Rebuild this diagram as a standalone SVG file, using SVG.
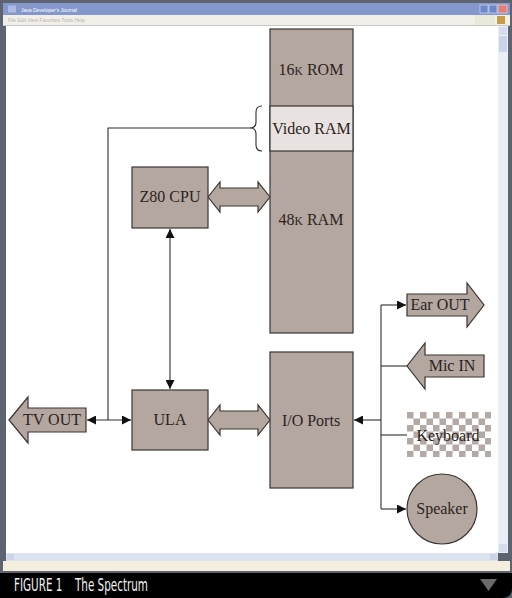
<svg xmlns="http://www.w3.org/2000/svg" width="512" height="598" viewBox="0 0 512 598">
<style>
.box{fill:#b4a7a0;stroke:#3a3432;stroke-width:1.2}
.lt{fill:#e8e3e0;stroke:#3a3432;stroke-width:1.2}
.lbl{font-family:"Liberation Serif","Times New Roman",serif;font-size:16px;fill:#2b2320;text-anchor:middle}
.ln{fill:none;stroke:#2e2e2e;stroke-width:1.1}
.ui{font-family:"Liberation Sans",Arial,sans-serif;font-size:5px}
.cap{font-family:"DejaVu Sans Condensed","DejaVu Sans","Liberation Sans",sans-serif;font-size:17px;fill:#f2f2f2}
</style>
<defs>
<marker id="ah" viewBox="0 0 10 10" refX="10" refY="5" markerWidth="9" markerHeight="9" markerUnits="userSpaceOnUse" orient="auto-start-reverse">
<path d="M0,0 L10,5 L0,10 z" fill="#111"/>
</marker>
<pattern id="chk" x="407" y="412" width="13" height="13" patternUnits="userSpaceOnUse">
<rect width="13" height="13" fill="#ffffff"/>
<rect width="6.5" height="6.5" fill="#b3aaa6"/>
<rect x="6.5" y="6.5" width="6.5" height="6.5" fill="#b3aaa6"/>
</pattern>
</defs>

<!-- window chrome -->
<g id="window">
<rect x="0" y="0" width="512" height="598" fill="#5d6470"/>
<rect x="3" y="3" width="507" height="12" fill="#8598cd"/>
<text x="21" y="11.5" class="ui" fill="#ffffff">Java Developer's Journal</text>
<rect x="8" y="5.5" width="8" height="7" fill="#c8d2ee" opacity="0.6"/>
<rect x="480" y="5" width="8" height="8" fill="#6f86c8" stroke="#dfe6f6" stroke-width="0.6"/>
<rect x="489" y="5" width="8" height="8" fill="#6f86c8" stroke="#dfe6f6" stroke-width="0.6"/>
<rect x="498" y="5" width="9" height="8" fill="#e07f7a" stroke="#f4dcdc" stroke-width="0.6"/>
<rect x="3" y="15" width="507" height="10" fill="#f2efe8"/>
<rect x="475" y="15" width="20" height="10" fill="#eae8d8"/>
<text x="8" y="22" class="ui" fill="#b8b6b0">File   Edit   View   Favorites   Tools   Help</text>
<rect x="497" y="16" width="8" height="8" fill="#c79b4a"/>
<rect x="3" y="25" width="507" height="1" fill="#c7c7c7"/>
<rect x="6" y="26" width="492" height="527" fill="#ffffff"/>
<rect x="498" y="26" width="10" height="527" fill="#eaeef6"/>
<rect x="499" y="27" width="8" height="8" fill="#d4dcee"/>
<rect x="499" y="36" width="8" height="16" fill="#c9d3ea"/>
<rect x="499" y="544" width="8" height="8" fill="#d4dcee"/>
<rect x="6" y="553" width="492" height="8" fill="#dce4f2"/>
<rect x="7" y="554" width="7" height="6" fill="#cbd5ea"/>
<rect x="490" y="554" width="7" height="6" fill="#cbd5ea"/>
<rect x="3" y="561" width="507" height="10" fill="#f4efdc"/>
<path d="M0,573 H512 V588 Q512,598 502,598 H0 Z" fill="#000000"/>
<text transform="translate(14,591) scale(0.68,1)" class="cap">FIGURE 1</text>
<text transform="translate(75,591) scale(0.68,1)" class="cap">The Spectrum</text>
<path d="M480,579 H497 L488.5,591 Z" fill="#6a6a6a"/>
</g>

<!-- connectors -->
<g id="connectors">
<line class="ln" x1="170" y1="229" x2="170" y2="389" marker-start="url(#ah)" marker-end="url(#ah)"/>
<line class="ln" x1="87" y1="420" x2="131" y2="420" marker-start="url(#ah)" marker-end="url(#ah)"/>
<polyline class="ln" points="108,420 108,128 250,128"/>
<path class="ln" d="M262,106 Q256,106 256,112 L256,122 Q256,128 250,128 Q256,128 256,134 L256,145 Q256,151 262,151"/>
<line class="ln" x1="381" y1="420" x2="354" y2="420" marker-end="url(#ah)"/>
<line class="ln" x1="381" y1="305" x2="381" y2="509"/>
<line class="ln" x1="381" y1="305" x2="406" y2="305" marker-end="url(#ah)"/>
<line class="ln" x1="381" y1="366" x2="407" y2="366"/>
<line class="ln" x1="381" y1="435" x2="407" y2="435"/>
<line class="ln" x1="381" y1="509" x2="406" y2="509" marker-end="url(#ah)"/>
<polygon class="box" points="208,197 220,182 220,188 258,188 258,182 270,197 258,212 258,206 220,206 220,212"/>
<polygon class="box" points="208,420 220,405 220,411 258,411 258,405 270,420 258,435 258,429 220,429 220,435"/>
</g>

<g id="memory">
<rect class="box" x="270" y="29" width="83" height="304"/>
<rect class="lt" x="270" y="106" width="83" height="45"/>
</g>
<g id="rom">
<text class="lbl" x="311" y="75">16<tspan font-size="11.5">K</tspan> ROM</text>
</g>
<g id="vram">
<text class="lbl" x="311.5" y="134">Video RAM</text>
</g>
<g id="ram">
<text class="lbl" x="311" y="225">48<tspan font-size="11.5">K</tspan> RAM</text>
</g>
<g id="cpu">
<rect class="box" x="132" y="167" width="76" height="61"/>
<text class="lbl" x="170" y="202">Z80 CPU</text>
</g>
<g id="ula">
<rect class="box" x="132" y="390" width="76" height="60"/>
<text class="lbl" x="170" y="425">ULA</text>
</g>
<g id="io">
<rect class="box" x="270" y="352" width="83" height="136"/>
<text class="lbl" x="311" y="426">I/O Ports</text>
</g>
<g id="tvout">
<polygon class="box" points="9,420 28,397 28,408 86,408 86,432 28,432 28,443"/>
<text class="lbl" x="52" y="425">TV OUT</text>
</g>
<g id="earout">
<polygon class="box" points="407,294 467,294 467,283 484,305 467,327 467,316 407,316"/>
<text class="lbl" x="440" y="310">Ear OUT</text>
</g>
<g id="micin">
<polygon class="box" points="407,366 425,343 425,355 484,355 484,377 425,377 425,389"/>
<text class="lbl" x="452" y="371">Mic IN</text>
</g>
<g id="keyboard">
<rect x="407" y="412" width="84" height="45" fill="url(#chk)"/>
<text class="lbl" x="448" y="441">Keyboard</text>
</g>
<g id="speaker">
<circle class="box" cx="442" cy="509" r="35"/>
<text class="lbl" x="442" y="514">Speaker</text>
</g>
</svg>
